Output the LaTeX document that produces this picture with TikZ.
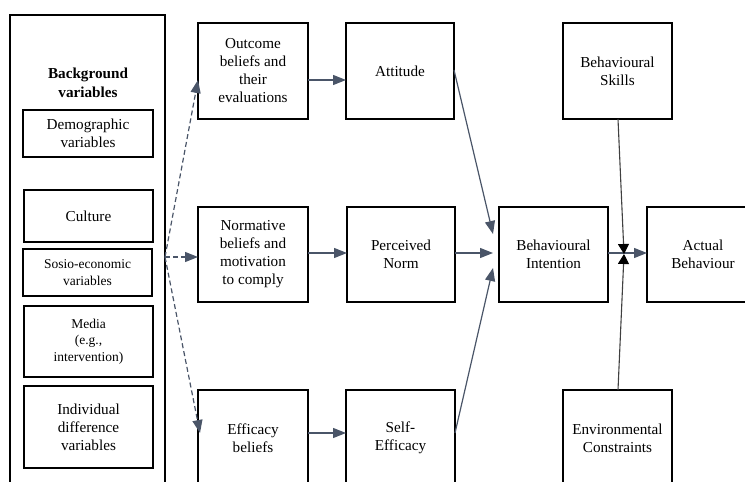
\documentclass[tikz,border=0pt]{standalone}
\usepackage{fontspec}
\setmainfont{Liberation Serif}
\usetikzlibrary{arrows.meta}
\definecolor{arrc}{HTML}{4A5568}
\begin{document}
\begin{tikzpicture}[x=1pt,y=-1pt,
  font=\fontsize{15.2}{18}\selectfont,
  box/.style={draw=black,line width=1.3pt,outer sep=0pt,inner sep=2pt,align=center,anchor=north west,fill=white},
  small/.style={font=\fontsize{13.5}{16.5}\selectfont},
  arr/.style={draw=arrc,line width=1.2pt,-{Triangle[length=13pt,width=10pt]}},
  darr/.style={arr,dash pattern=on 5pt off 3pt},
  karr/.style={draw=black!75,line width=1.1pt,-{Triangle[length=10pt,width=11pt,color=black]}}]
\useasboundingbox (0,0) rectangle (745,482);
\clip (0,0) rectangle (745,482);
% background column
\node[box,minimum width=155,minimum height=480] (bg) at (10,15) {};
\node[font=\fontsize{15.2}{19.5}\selectfont\bfseries,align=center] (bgt) at (88,83) {Background\\variables};
\node[box,minimum width=130,minimum height=47] (demo) at (23,110) {Demographic\\variables};
\node[box,minimum width=129,minimum height=52] (cult) at (24,190) {Culture};
\node[box,small,minimum width=129,minimum height=47] (soc) at (23,249) {Sosio-economic\\variables};
\node[box,small,minimum width=129,minimum height=71] (med) at (24,306) {Media\\(e.g.,\\intervention)};
\node[box,minimum width=129,minimum height=82] (ind) at (24,386) {Individual\\difference\\variables};
% belief column
\node[box,minimum width=110,minimum height=96] (outc) at (198,23) {Outcome\\beliefs and\\their\\evaluations};
\node[box,minimum width=110,minimum height=95] (norm) at (198,207) {Normative\\beliefs and\\motivation\\to comply};
\node[box,minimum width=110,minimum height=96] (eff) at (198,390) {Efficacy\\beliefs};
% second column
\node[box,minimum width=108,minimum height=96] (att) at (346,23) {Attitude};
\node[box,minimum width=108,minimum height=95] (pn) at (347,207) {Perceived\\Norm};
\node[box,minimum width=109,minimum height=96] (se) at (346,390) {Self-\\Efficacy};
% right part
\node[box,minimum width=109,minimum height=95] (bi) at (499,207) {Behavioural\\Intention};
\node[box,minimum width=112,minimum height=95] (ab) at (647,207) {Actual\\Behaviour};
\node[box,minimum width=109,minimum height=96] (bs) at (563,23) {Behavioural\\Skills};
\node[box,minimum width=109,minimum height=96] (ec) at (563,390) {Environmental\\Constraints};
% connectors
\coordinate (src) at (165,257);
\draw[darr] (src) -- (outc.west |- 0,80);
\draw[darr] (src) -- (norm.west |- 0,257);
\draw[darr] (src) -- (200,433);
\draw[arr] (outc.east |- 0,80) -- (att.west |- 0,80);
\draw[arr] (norm.east |- 0,253) -- (pn.west |- 0,253);
\draw[arr] (eff.east |- 0,433) -- (se.west |- 0,433);
\draw[arr] (att.east |- 0,70) -- (493,234);
\draw[arr] (pn.east |- 0,253) -- (493,253);
\draw[arr] (se.east |- 0,433) -- (493,268);
\draw[arr] (bi.east |- 0,253) -- (ab.west |- 0,253);
\coordinate (jn) at (624,254);
\draw[karr] (bs.south -| 618,0) -- (jn);
\draw[karr] (ec.north -| 618,0) -- (jn);
\end{tikzpicture}
\end{document}
